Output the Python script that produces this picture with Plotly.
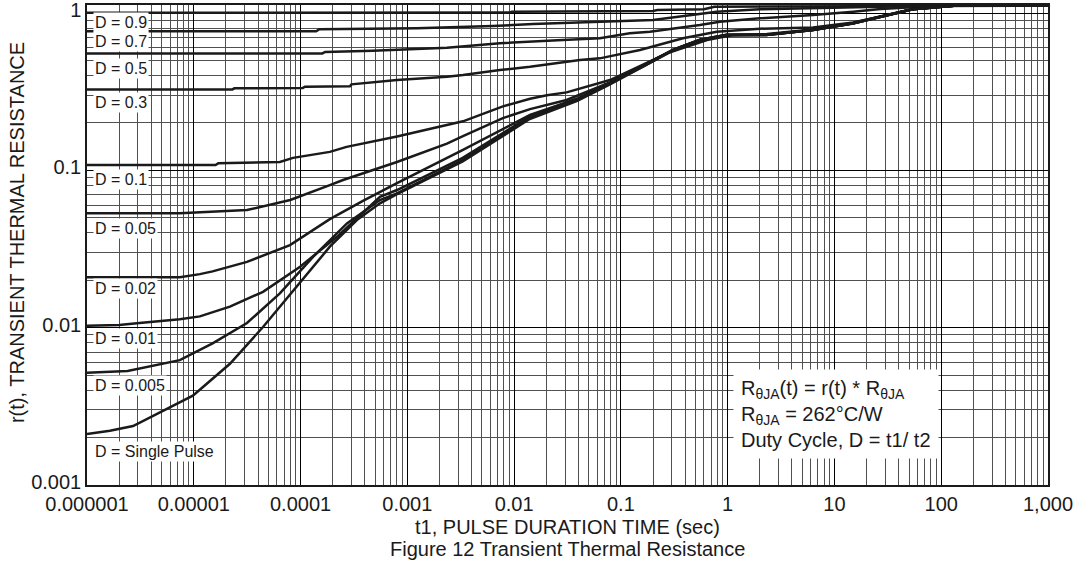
import plotly.graph_objects as go

# ---------------- data ----------------
x_tick_vals = [1e-6, 1e-5, 1e-4, 1e-3, 1e-2, 1e-1, 1, 10, 100, 1000]
x_tick_text = ["0.000001", "0.00001", "0.0001", "0.001", "0.01", "0.1", "1", "10", "100", "1,000"]
y_tick_vals = [0.001, 0.01, 0.1, 1]
y_tick_text = ["0.001", "0.01", "0.1", "1"]

t_d09 = [1e-6, 9e-3, 9.5e-3, 0.2, 0.22, 0.6, 0.75, 2.0, 27, 140, 1000]
r_d09 = [1.004, 1.006, 1.02, 1.03, 1.045, 1.056, 1.096, 1.1, 1.108, 1.115, 1.115]

t_d07 = [1e-6, 1.4e-4, 1.5e-4, 1.23e-3, 6.3e-3, 0.015, 0.2, 0.47, 0.79, 2.0, 6.3, 27, 140, 1000]
r_d07 = [0.765, 0.765, 0.788, 0.799, 0.827, 0.851, 0.903, 0.971, 1.019, 1.056, 1.075, 1.095, 1.115, 1.115]

t_d05 = [1e-6, 1.6e-4, 1.7e-4, 4.76e-4, 2.35e-3, 7.36e-3, 0.0286, 0.0635, 0.121, 0.187, 0.549, 0.845, 2.0, 6.3, 15, 27, 54, 140, 1000]
r_d05 = [0.554, 0.554, 0.566, 0.576, 0.602, 0.642, 0.674, 0.691, 0.743, 0.76, 0.839, 0.88, 0.925, 0.97, 1.02, 1.06, 1.09, 1.115, 1.115]

t_d03 = [1e-6, 2.3e-5, 2.4e-5, 1.05e-4, 1.1e-4, 2.9e-4, 3e-4, 8e-4, 2.35e-3, 3.32e-3, 7.36e-3, 0.0141, 0.0413, 0.0635, 0.151, 0.381, 0.79, 2.0, 6.3, 15, 27, 54, 140, 1000]
r_d03 = [0.327, 0.327, 0.332, 0.334, 0.34, 0.342, 0.352, 0.375, 0.394, 0.404, 0.434, 0.456, 0.503, 0.515, 0.582, 0.691, 0.76, 0.795, 0.81, 0.87, 0.95, 1.06, 1.115, 1.115]

t_d01 = [1e-6, 1.6e-5, 1.7e-5, 6.4e-5, 8.5e-5, 1.88e-4, 2.7e-4, 8e-4, 3.32e-3, 7.85e-3, 0.0141, 0.0203, 0.031, 0.079, 0.27, 0.64, 1.12, 2.33, 6.3, 15, 27, 54, 140, 1000]
r_d01 = [0.108, 0.108, 0.111, 0.113, 0.12, 0.131, 0.141, 0.164, 0.205, 0.255, 0.285, 0.3, 0.313, 0.375, 0.554, 0.674, 0.725, 0.735, 0.785, 0.865, 0.95, 1.056, 1.115, 1.115]

t_d005 = [1e-6, 7.4e-6, 3.15e-5, 8e-5, 1.88e-4, 2.5e-4, 8e-4, 2.35e-3, 3.32e-3, 7.85e-3, 0.0141, 0.031, 0.079, 0.16, 0.31, 0.55, 0.98, 2.3, 6.3, 15, 27, 54, 140, 1000]
r_d005 = [0.0533, 0.0533, 0.0559, 0.0648, 0.0806, 0.0868, 0.113, 0.148, 0.165, 0.215, 0.245, 0.28, 0.362, 0.458, 0.584, 0.675, 0.726, 0.728, 0.782, 0.862, 0.948, 1.056, 1.115, 1.115]

t_d002 = [1e-6, 7.4e-6, 1.14e-5, 1.5e-5, 3.15e-5, 7.96e-5, 1.88e-4, 3.84e-4, 8e-4, 3.32e-3, 0.0141, 0.039, 0.079, 0.16, 0.31, 0.55, 0.98, 2.3, 6.3, 15, 27, 54, 140, 1000]
r_d002 = [0.0209, 0.0209, 0.0219, 0.0228, 0.0262, 0.0335, 0.049, 0.064, 0.083, 0.135, 0.225, 0.285, 0.36, 0.46, 0.585, 0.676, 0.727, 0.727, 0.781, 0.861, 0.948, 1.056, 1.115, 1.115]

t_d001 = [1e-6, 2e-6, 3.1e-6, 7.4e-6, 1.14e-5, 2.18e-5, 4.45e-5, 9.9e-5, 2.19e-4, 5.54e-4, 8e-4, 3.3e-3, 0.014, 0.039, 0.079, 0.16, 0.31, 0.55, 0.98, 2.3, 6.3, 15, 27, 54, 140, 1000]
r_d001 = [0.0103, 0.0104, 0.0107, 0.0113, 0.0118, 0.0136, 0.0169, 0.0244, 0.0378, 0.0679, 0.075, 0.12, 0.22, 0.285, 0.36, 0.46, 0.585, 0.676, 0.727, 0.726, 0.78, 0.86, 0.947, 1.056, 1.115, 1.115]

t_d0005 = [1e-6, 2.4e-6, 7.4e-6, 1.5e-5, 3.15e-5, 6.4e-5, 1.31e-4, 2.72e-4, 5.54e-4, 8e-4, 3.3e-3, 0.014, 0.039, 0.079, 0.16, 0.31, 0.55, 0.98, 2.3, 6.3, 15, 27, 54, 140, 1000]
r_d0005 = [0.00517, 0.0053, 0.00622, 0.00795, 0.0107, 0.0165, 0.0282, 0.046, 0.0648, 0.0714, 0.116, 0.216, 0.28, 0.356, 0.456, 0.582, 0.674, 0.725, 0.725, 0.78, 0.86, 0.947, 1.056, 1.115, 1.115]

t_single = [1e-6, 1.64e-6, 2.7e-6, 5.6e-6, 9.8e-6, 1.22e-5, 1.65e-5, 2.18e-5, 4.45e-5, 9.25e-5, 1.88e-4, 3.37e-4, 5.54e-4, 8.0e-4, 3.3e-3, 0.014, 0.039, 0.079, 0.16, 0.31, 0.55, 0.98, 2.3, 6.3, 15, 27, 54, 140, 1000]
r_single = [0.00211, 0.00221, 0.00237, 0.00307, 0.0037, 0.0042, 0.0050, 0.0059, 0.0101, 0.0182, 0.0327, 0.0483, 0.0617, 0.0705, 0.114, 0.212, 0.277, 0.352, 0.452, 0.578, 0.67, 0.722, 0.724, 0.779, 0.859, 0.946, 1.056, 1.115, 1.115]

curve_labels = ["D = 0.9", "D = 0.7", "D = 0.5", "D = 0.3", "D = 0.1", "D = 0.05",
                "D = 0.02", "D = 0.01", "D = 0.005", "D = Single Pulse"]
series = [(t_d09, r_d09), (t_d07, r_d07), (t_d05, r_d05), (t_d03, r_d03), (t_d01, r_d01),
          (t_d005, r_d005), (t_d002, r_d002), (t_d001, r_d001), (t_d0005, r_d0005), (t_single, r_single)]
# label vertical placement (paper coords)
label_y = [0.963, 0.924, 0.868, 0.797, 0.6375, 0.535, 0.41, 0.305, 0.208, 0.0694]

FONT = "Liberation Sans, Arial, sans-serif"
INK = "#1a1a1a"
fig = go.Figure()
for (t, r), name in zip(series, curve_labels):
    fig.add_trace(go.Scatter(x=t, y=r, mode="lines", name=name,
                             line=dict(color=INK, width=2.5), showlegend=False))

for name, yy in zip(curve_labels, label_y):
    fig.add_annotation(xref="paper", yref="paper", x=0.006, y=yy, xanchor="left", yanchor="middle",
                       text=name, showarrow=False, bgcolor="white", borderpad=1,
                       font=dict(family=FONT, size=16, color=INK))

fig.add_annotation(xref="paper", yref="paper", x=0.672, y=0.148, xanchor="left", yanchor="middle",
                   align="left", showarrow=False, bgcolor="white", borderpad=7,
                   text="R<sub>θJA</sub>(t) = r(t) * R<sub>θJA</sub><br>R<sub>θJA</sub> = 262°C/W<br>Duty Cycle, D = t1/ t2",
                   font=dict(family=FONT, size=20, color=INK))

fig.add_annotation(xref="paper", yref="paper", x=0.5, y=-0.0875, xanchor="center", yanchor="middle",
                   text="t1, PULSE DURATION TIME (sec)", showarrow=False,
                   font=dict(family=FONT, size=20, color=INK))
fig.add_annotation(xref="paper", yref="paper", x=0.5, y=-0.133, xanchor="center", yanchor="middle",
                   text="Figure 12 Transient Thermal Resistance", showarrow=False,
                   font=dict(family=FONT, size=20, color=INK))
fig.add_annotation(xref="paper", yref="paper", x=-0.0728, y=0.525, xanchor="center", yanchor="middle",
                   text="r(t), TRANSIENT THERMAL RESISTANCE", textangle=-90, showarrow=False,
                   font=dict(family=FONT, size=20, color=INK))

axis_common = dict(type="log", showline=True, mirror=True, linecolor=INK, linewidth=1.5,
                   showgrid=True, gridcolor="#000000", gridwidth=1.3, ticks="", zeroline=False,
                   tickfont=dict(family=FONT, size=20, color=INK), ticklabeloverflow="allow",
                   automargin=False,
                   minor=dict(dtick="D1", showgrid=True, gridcolor="#505050", gridwidth=1.2, ticks=""))
fig.update_xaxes(range=[-6, 3], tickmode="array", tickvals=x_tick_vals, ticktext=x_tick_text, **axis_common)
fig.update_yaxes(range=[-3, 0.051], tickmode="array", tickvals=y_tick_vals, ticktext=y_tick_text,
                 ticklabelshift=-3, **axis_common)

fig.update_layout(width=1078, height=565, margin=dict(l=87, r=30, t=5, b=80, autoexpand=False),
                  paper_bgcolor="white", plot_bgcolor="white", showlegend=False,
                  font=dict(family=FONT, color=INK))
fig.write_html("out.html", config={"displayModeBar": False},
               post_script="document.body.style.margin='0';document.body.style.overflow='hidden';")
